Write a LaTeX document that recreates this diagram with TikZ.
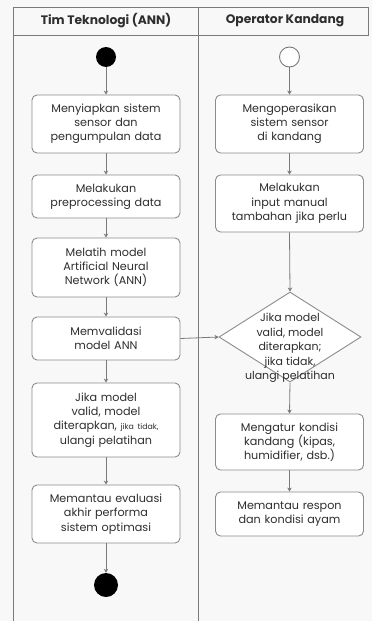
\documentclass[tikz,border=0pt]{standalone}
\usepackage{fontspec}
\setmainfont{Poppins}
\usetikzlibrary{arrows.meta,shapes.geometric}
\definecolor{linec}{HTML}{7A7A7A}
\definecolor{boxc}{HTML}{8C8C8C}
\definecolor{txtc}{HTML}{2E2E2E}
\definecolor{bgc}{HTML}{F8F8F8}
\tikzset{
  actbox/.style={draw=boxc, line width=0.9pt, rounded corners=5pt, fill=white,
    minimum width=148pt, text width=146pt, align=center, inner sep=0pt,
    font=\fontsize{11.2}{14.2}\selectfont, text=txtc},
  flow/.style={draw=linec, line width=0.8pt, -{Stealth[length=4pt,width=4.5pt]}},
  lane/.style={draw=linec, line width=0.9pt},
  hdr/.style={font=\fontsize{12.3}{14}\selectfont\bfseries, text=txtc},
}
\begin{document}
\begin{tikzpicture}[x=1pt,y=-1pt]
\useasboundingbox[fill=bgc] (0,0) rectangle (372,621);
% frame
\draw[lane] (13,621) -- (13,7) -- (368,7) -- (368,35) -- (13,35);
\draw[lane] (198.5,7) -- (198.5,621);
\node[hdr] (h1) at (106,21) {Tim Teknologi (ANN)};
\node[hdr] (h2) at (285,21) {Operator Kandang};
% left lane
\node[circle, fill=black, minimum size=20pt, inner sep=0pt] (ls) at (106,57) {};
\node[actbox, minimum height=58pt] (L1) at (106,124) {Menyiapkan sistem\\sensor dan\\pengumpulan data};
\node[actbox, minimum height=43pt] (L2) at (106,196.5) {Melakukan\\preprocessing data};
\node[actbox, minimum height=59pt] (L3) at (106,267.5) {Melatih model\\Artificial Neural\\Network (ANN)};
\node[actbox, minimum height=43pt] (L4) at (106,338.5) {Memvalidasi\\model ANN};
\node[actbox, minimum height=74pt] (L5) at (106,420) {Jika model\\valid, model\\diterapkan, {\fontsize{7.8}{9}\selectfont jika tidak,}\\ulangi pelatihan};
\node[actbox, minimum height=58pt] (L6) at (106,514) {Memantau evaluasi\\akhir performa\\sistem optimasi};
\node[circle, fill=black, minimum size=24pt, inner sep=0pt] (le) at (106,585) {};
% right lane
\node[circle, draw=linec, line width=0.9pt, fill=white, minimum size=20pt, inner sep=0pt] (rs) at (289.5,57) {};
\node[actbox, minimum height=58pt] (R1) at (289.5,124) {Mengoperasikan\\sistem sensor\\di kandang};
\node[actbox, minimum height=57pt] (R2) at (289.5,203.5) {Melakukan\\input manual\\tambahan jika perlu};
\node[diamond, draw=boxc, line width=0.9pt, fill=white, minimum width=142pt, minimum height=90pt, inner sep=0pt] (D) at (290,337) {};
\node[align=center, font=\fontsize{11}{14.5}\selectfont, text=txtc, inner sep=0pt] (Dt) at (290,348) {Jika model\\valid, model\\diterapkan;\\jika tidak,\\ulangi pelatihan};
\node[actbox, minimum height=56pt] (R3) at (289.5,442) {Mengatur kondisi\\kandang (kipas,\\humidifier, dsb.)};
\node[actbox, minimum height=44pt] (R4) at (289.5,514) {Memantau respon\\dan kondisi ayam};
% flows
\draw[flow] (ls) -- (L1);
\draw[flow] (L1) -- (L2);
\draw[flow] (L2) -- (L3);
\draw[flow] (L3) -- (L4);
\draw[flow] (L4) -- (L5);
\draw[flow] (L5) -- (L6);
\draw[flow] (L6) -- (le);
\draw[flow] (rs) -- (R1);
\draw[flow] (R1) -- (R2);
\draw[flow] (R2.south) -- (D.north);
\draw[flow] (Dt.south) -- (R3.north);
\draw[flow] (R3) -- (R4);
\draw[flow] (L4.east) -- (D.west);
\end{tikzpicture}
\end{document}
